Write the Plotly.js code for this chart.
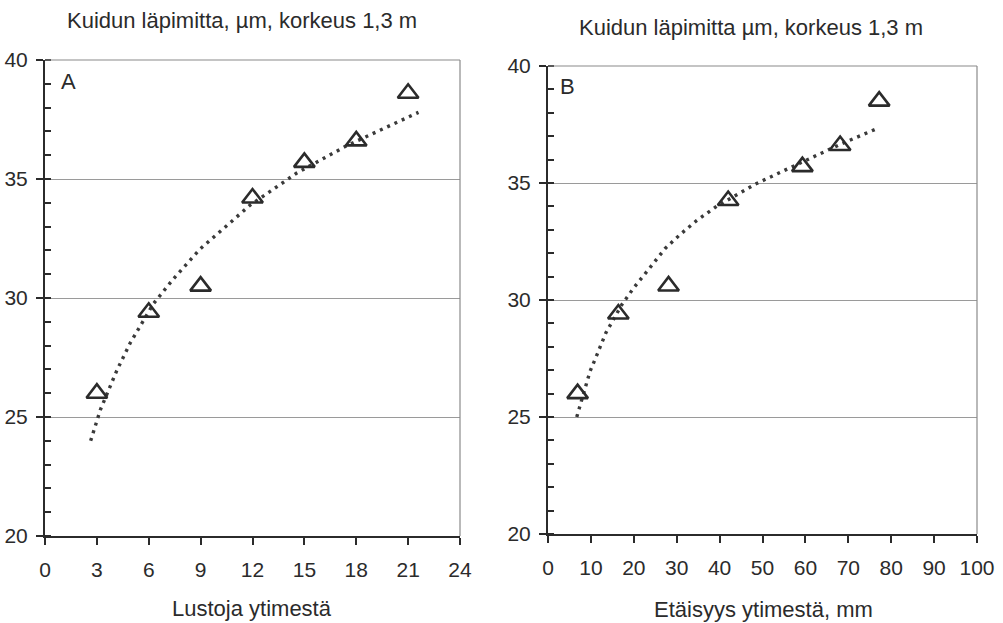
<!DOCTYPE html>
<html>
<head>
<meta charset="utf-8">
<script src="https://cdn.plot.ly/plotly-3.0.1.min.js"></script>
<style>html,body{margin:0;padding:0;background:#fff;}#chart{width:1003px;height:623px;}</style>
</head>
<body>
<div id="chart"></div>
<script>
// ---- Data ----
// Panel A: rings from pith
var ringsA = [3, 6, 9, 12, 15, 18, 21];
var fibreA = [26.0, 29.4, 30.5, 34.2, 35.7, 36.6, 38.6];
var trendAx = [2.64, 3.2, 4.15, 4.92, 6.26, 7.42, 8.96, 11.86, 14.56, 17.45, 21.6];
var trendAy = [24.0, 25.3, 26.95, 28.1, 29.75, 30.8, 32.05, 33.9, 35.25, 36.4, 37.8];
// Panel B: distance from pith, mm
var distB = [6.9, 16.4, 28.1, 42.0, 59.3, 68.1, 77.2];
var fibreB = [26.0, 29.4, 30.6, 34.25, 35.7, 36.6, 38.5];
var trendBx = [6.7, 7.5, 9.8, 11.5, 13.5, 17.2, 19.9, 23.4, 27.3, 30.8, 34.7, 39.3, 48.3, 56.4, 68.1, 77.0];
var trendBy = [25.0, 25.5, 26.95, 27.7, 28.6, 29.8, 30.5, 31.3, 32.2, 32.8, 33.4, 34.0, 34.95, 35.65, 36.65, 37.35];
// Texts
var titleA = "Kuidun läpimitta, µm, korkeus 1,3 m";
var titleB = "Kuidun läpimitta µm, korkeus 1,3 m";
var xTitleA = "Lustoja ytimestä";
var xTitleB = "Etäisyys ytimestä, mm";
var panelLabels = ["A", "B"];

var W = 1003, H = 623;
function px(x){ return x / W; }
function py(y){ return 1 - y / H; }

var FONT = "Liberation Sans, Arial, sans-serif";
var DARK = "#2b2b2b";

var markerStyle = {symbol: "triangle-up-open", size: 18, color: DARK, line: {color: DARK, width: 2.6}};
var lineStyle = {color: "#3a3a3a", width: 3.4, dash: "3px,5px"};

var traces = [
  {x: trendAx, y: trendAy, mode: "lines", line: lineStyle, xaxis: "x", yaxis: "y", hoverinfo: "skip", showlegend: false},
  {x: ringsA, y: fibreA, mode: "markers", marker: markerStyle, xaxis: "x", yaxis: "y", showlegend: false},
  {x: trendBx, y: trendBy, mode: "lines", line: lineStyle, xaxis: "x2", yaxis: "y2", hoverinfo: "skip", showlegend: false},
  {x: distB, y: fibreB, mode: "markers", marker: markerStyle, xaxis: "x2", yaxis: "y2", showlegend: false}
];

function xAxis(domain, range, dtick, anchor){
  return {
    domain: domain, range: range, dtick: dtick, tick0: 0, anchor: anchor,
    showline: true, linecolor: DARK, linewidth: 2,
    ticks: "outside", ticklen: 7, tickwidth: 2, tickcolor: DARK,
    ticklabelstandoff: 7,
    showgrid: false, zeroline: false,
    tickfont: {family: FONT, size: 21, color: DARK},
    fixedrange: true
  };
}
function yAxis(domain, anchor){
  return {
    domain: domain, range: [20, 40], dtick: 5, tick0: 20, anchor: anchor,
    showline: true, linecolor: DARK, linewidth: 2,
    ticks: "outside", ticklen: 7, tickwidth: 2, tickcolor: DARK,
    ticklabelstandoff: 4,
    minor: {dtick: 1, ticks: "inside", ticklen: 6, tickwidth: 2, tickcolor: DARK, showgrid: false},
    showgrid: true, gridcolor: "#9a9a9a", gridwidth: 1,
    zeroline: false,
    tickfont: {family: FONT, size: 21, color: DARK},
    fixedrange: true
  };
}

var domA = {x: [px(45), px(460)], y: [py(536), py(60)]};
var domB = {x: [px(548), px(977)], y: [py(534), py(66)]};

var layout = {
  width: W, height: H,
  margin: {l: 0, r: 0, t: 0, b: 0},
  paper_bgcolor: "#ffffff", plot_bgcolor: "#ffffff",
  showlegend: false,
  xaxis: xAxis(domA.x, [0, 24], 3, "y"),
  yaxis: yAxis(domA.y, "x"),
  xaxis2: xAxis(domB.x, [0, 100], 10, "y2"),
  yaxis2: yAxis(domB.y, "x2"),
  shapes: [
    {type: "line", xref: "x domain", yref: "y domain", x0: 0, x1: 1, y0: 1, y1: 1, line: {color: "#8a8a8a", width: 1.2}},
    {type: "line", xref: "x domain", yref: "y domain", x0: 1, x1: 1, y0: 0, y1: 1, line: {color: "#8a8a8a", width: 1.2}},
    {type: "line", xref: "x2 domain", yref: "y2 domain", x0: 0, x1: 1, y0: 1, y1: 1, line: {color: "#8a8a8a", width: 1.2}},
    {type: "line", xref: "x2 domain", yref: "y2 domain", x0: 1, x1: 1, y0: 0, y1: 1, line: {color: "#8a8a8a", width: 1.2}}
  ],
  annotations: [
    {text: titleA, xref: "paper", yref: "paper", x: px(242), y: py(21), xanchor: "center", yanchor: "middle", showarrow: false, font: {family: FONT, size: 22, color: DARK}},
    {text: titleB, xref: "paper", yref: "paper", x: px(751), y: py(27), xanchor: "center", yanchor: "middle", showarrow: false, font: {family: FONT, size: 22, color: DARK}},
    {text: xTitleA, xref: "paper", yref: "paper", x: px(252), y: py(608), xanchor: "center", yanchor: "middle", showarrow: false, font: {family: FONT, size: 22, color: DARK}},
    {text: xTitleB, xref: "paper", yref: "paper", x: px(763), y: py(609), xanchor: "center", yanchor: "middle", showarrow: false, font: {family: FONT, size: 22, color: DARK}},
    {text: panelLabels[0], xref: "paper", yref: "paper", x: px(68), y: py(81), xanchor: "center", yanchor: "middle", showarrow: false, font: {family: FONT, size: 22, color: DARK}},
    {text: panelLabels[1], xref: "paper", yref: "paper", x: px(567), y: py(87), xanchor: "center", yanchor: "middle", showarrow: false, font: {family: FONT, size: 22, color: DARK}}
  ]
};

Plotly.newPlot("chart", traces, layout, {displayModeBar: false, staticPlot: true});
</script>
</body>
</html>
